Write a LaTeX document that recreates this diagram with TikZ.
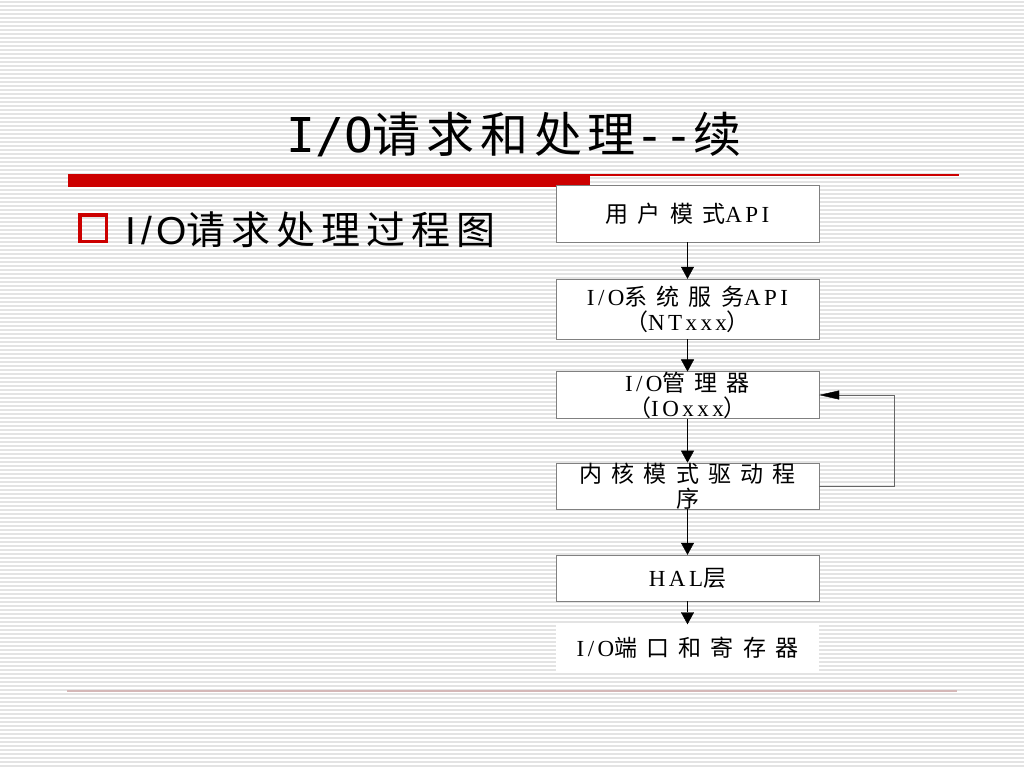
\documentclass[tikz,border=0pt]{standalone}
\usepackage{fontspec}
\setmainfont{Liberation Serif}[LetterSpace=15]
\newfontfamily\titlelat{DejaVu Sans Mono}
\newfontfamily\sublat[LetterSpace=12]{Liberation Sans}
\newfontfamily\titlecjk[LetterSpace=12]{Noto Sans CJK SC}
\newfontfamily\subcjk[LetterSpace=15]{Noto Sans CJK SC}
\newfontfamily\boxcjk[LetterSpace=40]{Noto Sans CJK SC}
\usetikzlibrary{arrows.meta}

\definecolor{barred}{HTML}{CC0000}

\begin{document}
\begin{tikzpicture}[x=1pt,y=-1pt,->,>={Triangle[width=13pt,length=12pt]},
   box/.style={draw=gray,fill=white,minimum width=263pt,minimum height=46pt,
     inner sep=0pt,align=center,font=\fontsize{23}{25}\selectfont}]
   \useasboundingbox (0,0) rectangle (1024,768);
   \fill[white] (0,0) rectangle (1024,768);
   \foreach \y in {2,6,...,766}
     \draw[-,gray!22,line width=1.2pt] (0,\y) -- (1024,\y);

   % title and bars
   \node (title) at (514,135) {\fontsize{48}{50}\selectfont\titlelat I/O{\titlecjk 请求和处理}-{}-{\titlecjk 续}};
   \fill[barred] (68,174) rectangle (590,187);
   \draw[-,barred,line width=1.5pt] (590,175) -- (959,175);
   \draw[-,red!25!gray!45,line width=1.5pt] (67,691) -- (957,691);

   % bullet
   \draw[-,barred,line width=3.5pt] (79.75,214.75) rectangle (106.25,241.25);
   \node[anchor=west] (sub) at (122,230) {\fontsize{39}{42}\selectfont\sublat I/O{\subcjk 请求处理过程图}};

   % flow
   \node[box,minimum height=57pt] (b1) at (687.5,213.5) {{\boxcjk 用户模式}API};
   \node[box,minimum height=60pt] (b2) at (687.5,309) {I/O{\boxcjk 系统服务}API\\{\boxcjk （}NTxxx{\boxcjk ）}};
   \node[box] (b3) at (687.5,395) {I/O{\boxcjk 管理器}\\{\boxcjk （}IOxxx{\boxcjk ）}};
   \node[box] (b4) at (687.5,486) {{\boxcjk 内核模式驱动程}\\{\boxcjk 序}};
   \node[box] (b5) at (687.5,578) {HAL{\boxcjk 层}};
   \node[box,draw=none] (b6) at (687.5,647.5) {I/O{\boxcjk 端口和寄存器}};

   \path (b1) edge (b2);
   \path (b2) edge (b3);
   \path (b3) edge (b4);
   \path (b4) edge (b5);
   \path (b5) edge (b6);

   \coordinate (fb) at (894,395);
   \draw[gray!80!black,-{Triangle[width=9pt,length=20pt,color=black]}] (b4.east) -| (fb) -- (b3.east);
\end{tikzpicture}
\end{document}
